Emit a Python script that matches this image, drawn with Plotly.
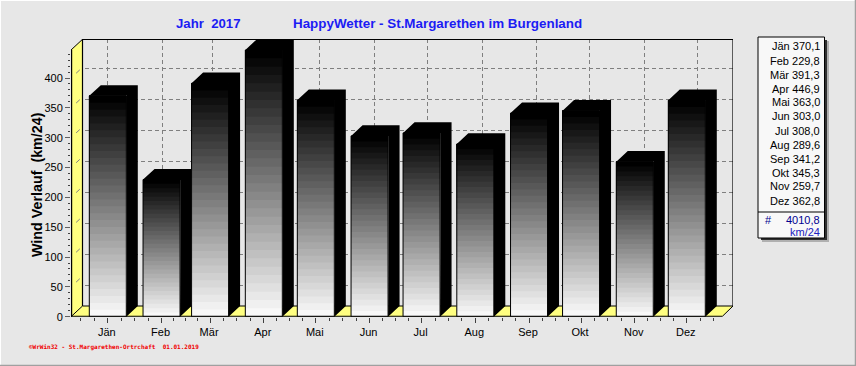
import pandas as pd
import plotly.graph_objects as go

months = ["Jän", "Feb", "Mär", "Apr", "Mai", "Jun", "Jul", "Aug", "Sep", "Okt", "Nov", "Dez"]
dates = ["2017-01-01", "2017-02-01", "2017-03-01", "2017-04-01", "2017-05-01", "2017-06-01",
         "2017-07-01", "2017-08-01", "2017-09-01", "2017-10-01", "2017-11-01", "2017-12-01"]
values = [370.1, 229.8, 391.3, 446.9, 363.0, 303.0, 308.0, 289.6, 341.2, 345.3, 259.7, 362.8]
y_ticks = [0, 50, 100, 150, 200, 250, 300, 350, 400]
total_text = "4010,8"
unit_text = "km/24"

W, H = 856, 366
PX_DAY = 1.7335      # horizontal scale
PX_UNIT = 0.5967     # vertical scale
X_JAN = 107.8        # pixel of the first month
Y_ZERO = 316.7       # pixel of zero on the front plane
DX_PX, DY_PX = 11.5, 10.7
BAR_PX = 37
N_BANDS = 32
AXIS_TOP = 446.9
BG = "#E7E7E7"
YELLOW = "#FFFF80"
FONT = "Liberation Sans"

t0 = pd.Timestamp("2017-01-01")
def day(d):
    return t0 + pd.Timedelta(days=d)
def shift(t, d):
    return pd.Timestamp(t) + pd.Timedelta(days=d)
def iso(t):
    return t.strftime("%Y-%m-%d %H:%M:%S")
def xpaper(px):
    return px / W
def ypaper(px):
    return 1 - px / H

dx = DX_PX / PX_DAY
dy = DY_PX / PX_UNIT
half = BAR_PX / PX_DAY / 2

x_lo = (71 - X_JAN) / PX_DAY
x_hi = (733 - X_JAN) / PX_DAY
x_front_end = (722 - X_JAN) / PX_DAY
y_hi = (Y_ZERO - 39) / PX_UNIT

fig = go.Figure()

def poly(xs, ys, color, z=0):
    fig.add_trace(go.Scatter(x=[iso(v) if v is not None else None for v in xs], y=ys, mode="lines", fill="toself",
                             fillcolor=color, line=dict(width=0), hoverinfo="skip", showlegend=False, zorder=z))

def path(xs, ys, color, width, dash="solid", z=0):
    fig.add_trace(go.Scatter(x=[iso(v) if v is not None else None for v in xs], y=ys, mode="lines",
                             line=dict(color=color, width=width, dash=dash),
                             hoverinfo="skip", showlegend=False, zorder=z))

# left wall and floor
poly([day(x_lo), day(x_lo + dx), day(x_lo + dx), day(x_lo)], [0, dy, AXIS_TOP + dy, AXIS_TOP], YELLOW)
poly([day(x_lo), day(x_lo + dx), day(x_hi), day(x_front_end)], [0, dy, dy, 0], YELLOW)

# short diagonal grid stubs on the wall
gx, gy = [], []
for t in y_ticks[1:]:
    gx += [day(x_lo), day(x_lo + dx), None]
    gy += [t, t + dy, None]
path(gx, gy, "#808080", 1, "0px,7px,5px,30px")

# frame of the 3D box
path([day(x_lo + dx), day(x_lo + dx), day(x_hi), day(x_hi), day(x_lo + dx)],
     [dy, AXIS_TOP + dy, AXIS_TOP + dy, dy, dy], "black", 1.2)
path([day(x_lo), day(x_lo + dx)], [0, dy], "black", 1)
path([day(x_lo), day(x_lo + dx)], [AXIS_TOP, AXIS_TOP + dy], "black", 1)
path([day(x_front_end), day(x_hi)], [0, dy], "black", 1)

# bar depth: side and top faces in black
sx, sy = [], []
for d, v in zip(dates, values):
    l, r = shift(d, -half), shift(d, half)
    sx += [r, shift(r, dx), shift(r, dx), r, None]
    sy += [0, dy, v + dy, v, None]
    sx += [l, shift(l, dx), shift(r, dx), r, None]
    sy += [v, v + dy, v + dy, v, None]
poly(sx, sy, "black", 1)

# stepped gradient on the bar fronts (each band runs to the bar top so no seams show)
bar_w = BAR_PX / PX_DAY * 86400000
for k in range(N_BANDS):
    g = max(248 - 8 * k, 0)
    fig.add_trace(go.Bar(x=dates, y=[v * (N_BANDS - k) / N_BANDS for v in values],
                         base=[v * k / N_BANDS for v in values], width=bar_w,
                         marker=dict(color=f"rgb({g},{g},{g})", line=dict(width=0)),
                         hoverinfo="skip", showlegend=False, zorder=2))
fig.add_trace(go.Bar(x=dates, y=values, width=bar_w,
                     marker=dict(color="rgba(0,0,0,0)", line=dict(color="black", width=1)),
                     hoverinfo="skip", showlegend=False, zorder=2))

# thick front axes
path([day(x_lo), day(x_front_end)], [0, 0], "black", 2, z=3)
path([day(x_lo), day(x_lo)], [0, AXIS_TOP], "black", 2.4, z=3)

# carrier for the back-wall grid axes
fig.add_trace(go.Scatter(x=dates[:1], y=[0], xaxis="x2", yaxis="y2", mode="markers",
                         marker=dict(opacity=0), hoverinfo="skip", showlegend=False))

# quarter-month minor ticks
all_days = list(pd.date_range("2016-12-01", "2018-01-01", freq="MS"))
minor_x = []
for a, b in zip(all_days[:-1], all_days[1:]):
    step = (b - a) / 4
    for j in range(1, 4):
        t = a + step * j
        if day(x_lo) <= t <= day(x_front_end):
            minor_x.append(iso(t))

grid = dict(showgrid=True, gridcolor="#7F7F7F", griddash="4px,3px", gridwidth=1, automargin=False,
            showline=False, zeroline=False, ticks="", showticklabels=False)

fig.update_layout(
    width=W, height=H, autosize=False, margin=dict(l=0, r=0, t=0, b=0, pad=0),
    paper_bgcolor=BG, plot_bgcolor=BG, barmode="overlay", showlegend=False,
    font=dict(family=FONT, size=11, color="black"),
    xaxis=dict(type="date", domain=[xpaper(71), xpaper(733)], automargin=False,
               range=[iso(day(x_lo)), iso(day(x_hi))], showgrid=False, zeroline=False, showline=False,
               tickmode="array", tickvals=dates, ticktext=months, ticks="outside", ticklen=5,
               tickcolor="#404040", tickwidth=1, tickfont=dict(family=FONT, size=11, color="black"),
               tickangle=0, ticklabelstandoff=0, ticklabelshift=-1,
               minor=dict(tickmode="array", tickvals=minor_x, ticks="outside", ticklen=3,
                          tickcolor="#404040", tickwidth=1, showgrid=False)),
    yaxis=dict(domain=[ypaper(Y_ZERO), ypaper(39)], range=[0, y_hi], showgrid=False, zeroline=False, automargin=False,
               showline=False, tickmode="array", tickvals=y_ticks, ticks="outside", ticklen=5,
               tickcolor="#606060", tickwidth=1, tickfont=dict(family=FONT, size=11, color="black"),
               minor=dict(tickmode="array", tickvals=list(range(0, 447, 10)), ticks="outside", ticklen=2,
                          tickcolor="#404040", tickwidth=1, showgrid=False)),
    xaxis2=dict(type="date", overlaying="x", anchor="y2", domain=[xpaper(83), xpaper(733)],
                range=[iso(day((83 - X_JAN - DX_PX) / PX_DAY)), iso(day((733 - X_JAN - DX_PX) / PX_DAY))],
                tickmode="array", tickvals=dates, **grid),
    yaxis2=dict(overlaying="y", anchor="x2", domain=[ypaper(Y_ZERO - DY_PX), ypaper(39)],
                range=[0, (Y_ZERO - DY_PX - 39) / PX_UNIT],
                tickmode="array", tickvals=y_ticks[1:], **grid),
)

def text(px, py, s, color="black", size=11, bold=False, anchor="left", family=FONT, angle=0):
    fig.add_annotation(xref="paper", yref="paper", x=xpaper(px), y=ypaper(py), text=f"<b>{s}</b>" if bold else s,
                       showarrow=False, xanchor=anchor, yanchor="middle", textangle=angle,
                       font=dict(family=family, size=size, color=color), borderpad=0, borderwidth=0)

BLUE = "#1C1CF4"
text(176, 24, "Jahr\u00a0\u00a02017", BLUE, 13.2, True)
text(293, 24, "HappyWetter - St.Margarethen im Burgenland", BLUE, 13.4, True)
text(37, 185, "Wind Verlauf\u00a0\u00a0(km/24)", "black", 14.3, True, "center", angle=-90)
text(29, 347, "\u00a9WrWin32 - St.Margarethen-Ortrchaft  01.01.2019", "#F00000", 6, True, family="DejaVu Sans Mono")

# value box
def rect(x0, y0, x1, y1, fill, line=None, lw=0):
    fig.add_shape(type="rect", xref="paper", yref="paper", x0=xpaper(x0), x1=xpaper(x1), y0=ypaper(y0), y1=ypaper(y1),
                  fillcolor=fill, line=dict(color=line, width=lw) if line else dict(width=0), layer="above")
def hline(x0, y0, x1, y1, color, lw=1):
    fig.add_shape(type="line", xref="paper", yref="paper", x0=xpaper(x0), x1=xpaper(x1), y0=ypaper(y0), y1=ypaper(y1),
                  line=dict(color=color, width=lw), layer="above")

rect(762, 41, 829, 242, "#B0B0B0")
rect(761, 40, 827, 240, "#303030")
rect(758, 37, 824.5, 238, "#F8F8F8", "black", 1)
hline(758, 212, 824.5, 212, "black", 1)
for i, (m, v) in enumerate(zip(months, values)):
    text(820, 46.5 + i * 14, f"{m} {v:.1f}".replace(".", ","), "black", 11, False, "right")
text(765, 220, "#", "#000090", 11)
text(820, 219.5, total_text, "#000090", 11, False, "right")
text(820, 232, unit_text, "#2020C0", 11, False, "right")

# window edge
hline(0, 0.5, W, 0.5, "#FFFFFF", 1)
hline(0.5, 0, 0.5, H, "#FFFFFF", 1)
hline(0, H - 0.5, W, H - 0.5, "#A0A0A0", 1.5)
hline(W - 0.5, 0, W - 0.5, H, "#A0A0A0", 1.5)

fig.write_html("out.html", config=dict(displayModeBar=False),
               post_script="document.body.style.margin='0';document.documentElement.style.overflow='hidden';")
